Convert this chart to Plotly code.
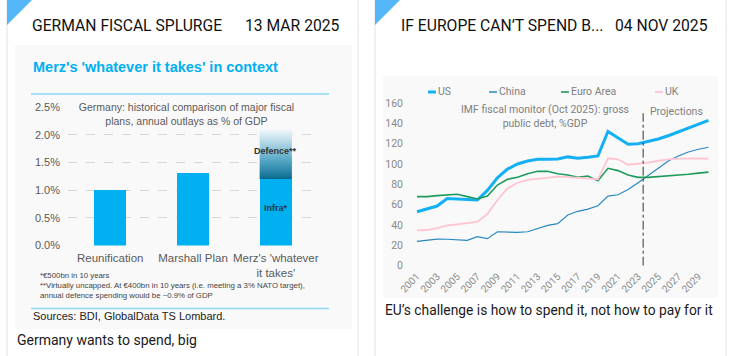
import plotly.graph_objects as go

W, H = 732, 356

# ---------------- data ----------------
plans = ["Reunification", "Marshall Plan", "Merz's 'whatever<br>it takes'"]
base_outlays = [1.0, 1.31, 1.2]      # % of GDP (Merz: infra part)
defence_extra = 0.9                   # % of GDP on top of infra for Merz
pct_ticks = [0.0, 0.5, 1.0, 1.5, 2.0, 2.5]

years = list(range(2001, 2031))
us = [53, 55.7, 58.7, 66, 65.5, 64.6, 64.6, 74, 86.5, 95, 100, 103, 104.6, 104.6, 105,
      107, 105.7, 106.6, 108, 132, 125.3, 119.4, 120, 122.3, 124.6, 127.8, 131.8, 135.4, 139, 143]
china = [24, 25.3, 26.2, 26, 25.8, 25, 28.5, 26.6, 33.4, 32.8, 32.8, 33.4, 36.7, 39.7, 41.3,
         49.8, 53.5, 55.7, 59, 68.5, 69.8, 75, 81.6, 88.8, 96.7, 103, 107.9, 111.8, 114.5, 116.5]
euro = [67.9, 67.9, 68.9, 69.2, 70.2, 67.9, 65.6, 68.5, 79.3, 85, 86.9, 90.5, 92.8, 92.8, 90.5,
        89.2, 86.9, 88.2, 83.6, 95.8, 93.5, 89.2, 86.9, 86.9, 87.5, 88.2, 89.2, 90, 91, 92]
uk = [34.8, 35.1, 37, 39.7, 40.7, 41.7, 43, 50.8, 64.6, 76, 81.6, 84.3, 85.3, 86.9, 87.5,
      87.2, 86.6, 85.9, 85, 105.6, 104.6, 99.3, 100, 101.3, 103.2, 104.6, 105.2, 105.6, 105.6, 105.2]
series_names = ["US", "China", "Euro Area", "UK"]
series_colors = ["#14b0f4", "#2a87c0", "#1e9b5c", "#ffc4d1"]
series_widths = [3, 1.2, 1.6, 1.8]
proj_start = 2023.5
debt_ticks = list(range(0, 161, 20))
year_ticks = list(range(2001, 2030, 2))


def px(x):
    return x / W


def py(y):
    return 1 - y / H


fig = go.Figure()

# ---------------- left chart: bars ----------------
bar_w = 0.39
fig.add_trace(go.Bar(x=[0, 1, 2], y=base_outlays, width=bar_w, marker=dict(color="#00b0f0", line=dict(width=0)),
                     xaxis="x", yaxis="y", showlegend=False, hoverinfo="skip"))
top = base_outlays[2] + defence_extra
fig.add_trace(go.Scatter(x=[2 - bar_w / 2, 2 + bar_w / 2, 2 + bar_w / 2, 2 - bar_w / 2, 2 - bar_w / 2],
                         y=[base_outlays[2], base_outlays[2], top, top, base_outlays[2]],
                         mode="lines", line=dict(width=0), fill="toself",
                         fillgradient=dict(type="vertical",
                                           colorscale=[[0, "#0b6688"], [0.08, "#1b7a9e"], [0.35, "#4fa3c2"],
                                                       [0.7, "#aad3e3"], [1, "#f4f9fb"]]),
                         xaxis="x", yaxis="y", showlegend=False, hoverinfo="skip"))

# ---------------- right chart: lines ----------------
for name, vals, col, lw in zip(series_names, [us, china, euro, uk], series_colors, series_widths):
    fig.add_trace(go.Scatter(x=years, y=vals, mode="lines", name=name,
                             line=dict(color=col, width=lw), xaxis="x2", yaxis="y2",
                             showlegend=False, hoverinfo="skip"))

shapes = []
# cards
for x0, x1 in [(7, 358), (375, 726)]:
    shapes.append(dict(type="rect", xref="paper", yref="paper", x0=px(x0), x1=px(x1), y0=py(370), y1=py(-10),
                       line=dict(color="#e2e2e2", width=1), fillcolor="white", layer="below"))
# corner triangles
for x0 in [7, 375]:
    shapes.append(dict(type="path", xref="paper", yref="paper",
                       path=f"M {px(x0)},{py(0)} L {px(x0+25)},{py(0)} L {px(x0)},{py(25)} Z",
                       fillcolor="#52b6f7", line=dict(width=0), layer="below"))
# image panels
shapes.append(dict(type="rect", xref="paper", yref="paper", x0=px(15), x1=px(352), y0=py(329), y1=py(45),
                   fillcolor="#f9f9f9", line=dict(width=0), layer="below"))
shapes.append(dict(type="rect", xref="paper", yref="paper", x0=px(383), x1=px(718), y0=py(298), y1=py(76),
                   fillcolor="#f9f9f9", line=dict(width=0), layer="below"))
# blue rules in left panel
for yy in [94, 308.5]:
    shapes.append(dict(type="line", xref="paper", yref="paper", x0=px(31), x1=px(329), y0=py(yy), y1=py(yy),
                       line=dict(color="#8fd9f6", width=1.5)))
# projection line
shapes.append(dict(type="line", xref="x2", yref="y2", x0=proj_start, x1=proj_start, y0=0, y1=150,
                   line=dict(color="#333333", width=1, dash="dashdot")))
# legend samples
leg_x = [428, 489, 561, 655]
for lx, col, lw in zip(leg_x, series_colors, series_widths):
    shapes.append(dict(type="line", xref="paper", yref="paper", x0=px(lx), x1=px(lx + 8), y0=py(92), y1=py(92),
                       line=dict(color=col, width=max(lw, 1.5))))

ann = []


def text(x, y, s, size, color, family="Roboto", xanchor="left", bold=False, **kw):
    if bold:
        s = f"<b>{s}</b>"
    ann.append(dict(x=px(x), y=py(y), xref="paper", yref="paper", text=s, showarrow=False,
                    xanchor=xanchor, yanchor="middle", font=dict(size=size, color=color, family=family), **kw))


# card headers
text(30, 26, "GERMAN FISCAL SPLURGE", 15.7, "#111111")
text(342, 26, "13 MAR 2025", 15.7, "#111111", xanchor="right")
text(399, 26, "IF EUROPE CAN’T SPEND B...", 15.7, "#111111")
text(710, 26, "04 NOV 2025", 15.7, "#111111", xanchor="right")
# captions
text(15, 340, "Germany wants to spend, big", 14, "#1a1a1a")
text(383, 310, "EU’s challenge is how to spend it, not how to pay for it", 13.8, "#1a1a1a")

# left panel texts
text(31, 67, "Merz's 'whatever it takes' in context", 14.5, "#00b0f0", family="Liberation Sans", bold=True)
text(186, 114.5, "Germany: historical comparison of major fiscal<br>plans, annual outlays as % of GDP", 10.5,
     "#595959", family="Liberation Sans", xanchor="center", bgcolor="#f9f9f9", width=235, align="center")
ann.append(dict(x=2, y=1.70, xref="x", yref="y", text="<b>Defence**</b>",
                showarrow=False, font=dict(size=9, color="#333333", family="Liberation Sans")))
ann.append(dict(x=2, y=0.68, xref="x", yref="y", text="<b>Infra*</b>",
                showarrow=False, font=dict(size=9, color="#1f3a4a", family="Liberation Sans")))
text(38, 275, "*€500bn in 10 years", 7.8, "#444444", family="Liberation Sans")
text(38, 285, "**Virtually uncapped. At €400bn in 10 years (i.e. meeting a 3% NATO target),", 7.8, "#444444",
     family="Liberation Sans")
text(38, 295, "annual defence spending would be ~0.9% of GDP", 7.8, "#444444", family="Liberation Sans")
text(31, 316, "Sources: BDI, GlobalData TS Lombard.", 11, "#222222", family="Liberation Sans")

# right panel texts
text(545, 116.5, "IMF fiscal monitor (Oct 2025): gross<br>public debt, %GDP", 10.5, "#7f7f7f", xanchor="center")
text(676, 111, "Projections", 10.5, "#7f7f7f", xanchor="center")
for lx, name in zip(leg_x, series_names):
    text(lx + 8, 92, name, 10.5, "#808080")

fig.update_layout(
    width=W, height=H, margin=dict(l=0, r=0, t=0, b=0, autoexpand=False),
    paper_bgcolor="white", plot_bgcolor="rgba(0,0,0,0)",
    showlegend=False, bargap=0,
    shapes=shapes, annotations=ann,
    xaxis=dict(domain=[px(68), px(318)], range=[-0.51, 2.51], tickvals=[0, 1, 2], ticktext=plans,
               automargin=False,
               showgrid=False, zeroline=False, showline=False, ticks="", ticklabelstandoff=4,
               tickfont=dict(size=11.5, color="#595959", family="Liberation Sans")),
    yaxis=dict(domain=[py(245.5), py(107)], range=[0, 2.5], tickvals=pct_ticks,
               ticktext=[f"{v:.1f}%" for v in pct_ticks], automargin=False,
               showgrid=True, gridcolor="#d6d6d6", griddash="dash", gridwidth=1,
               zeroline=True, zerolinecolor="#f9f9f9", showline=False, ticks="", ticklabelstandoff=7,
               tickfont=dict(size=11, color="#595959", family="Liberation Sans")),
    xaxis2=dict(domain=[px(413), px(712)], range=[2000.6, 2030.35], tickvals=year_ticks,
                ticktext=[str(y) for y in year_ticks], tickangle=-45, anchor="y2", automargin=False,
                showgrid=False, zeroline=False, showline=False, ticks="", ticklabelstandoff=2,
                tickfont=dict(size=10, color="#8a8a8a", family="Roboto")),
    yaxis2=dict(domain=[py(265.7), py(103)], range=[0, 160], tickvals=debt_ticks, anchor="x2",
                automargin=False,
                showgrid=False, zeroline=False, showline=False, ticks="", ticklabelstandoff=9,
                tickfont=dict(size=10.5, color="#8a8a8a", family="Roboto")),
)

fig.write_html("out.html", config={"displayModeBar": False, "staticPlot": True},
               post_script="document.body.style.margin='0';document.body.style.overflow='hidden';")
